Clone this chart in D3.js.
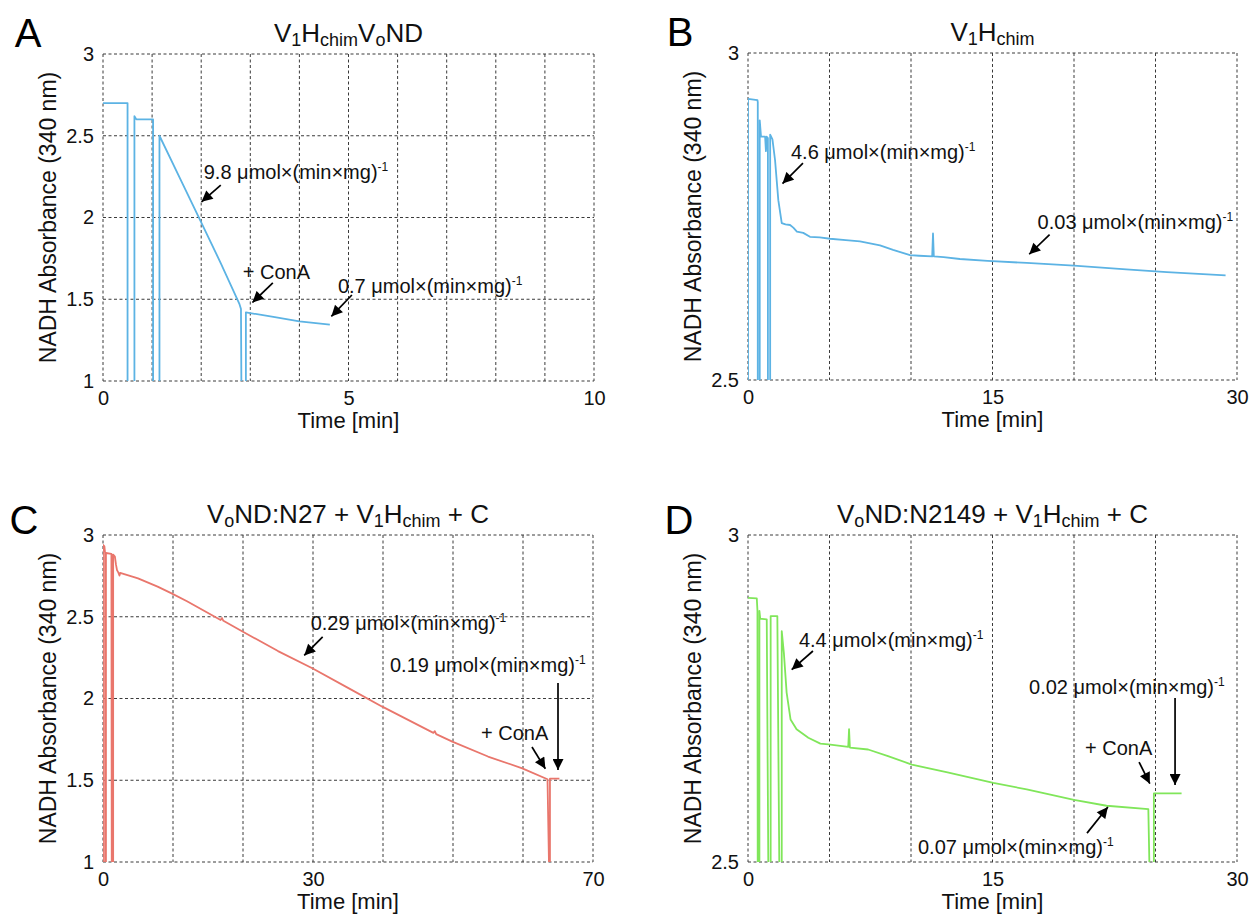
<!DOCTYPE html>
<html>
<head>
<meta charset="utf-8">
<script src="https://cdn.jsdelivr.net/npm/d3@7"></script>
<style>
  body { margin: 0; background: #fff; }
  svg { display: block; font-family: "Liberation Sans", Arial, Helvetica, sans-serif; }
</style>
</head>
<body>
<svg id="fig" width="1252" height="917"></svg>
<script>
// ---- Absorbance traces (time in min, NADH absorbance at 340 nm) ----
// Values below the axis minimum are the cuvette-opening dips; they are clipped.
const timeA = [0, 0.5, 0.5, 0.64, 0.64, 0.68, 1.02, 1.02, 1.15, 1.15, 1.6, 2.0, 2.4, 2.78, 2.81, 2.82, 2.91, 2.91, 3.5, 4.0, 4.62];
const absA  = [2.70, 2.70, 0.9, 0.9, 2.62, 2.60, 2.60, 0.9, 0.9, 2.50, 2.22, 1.97, 1.72, 1.47, 1.44, 0.9, 0.9, 1.42, 1.39, 1.365, 1.345];

const timeB = [0, 0, 0.58, 0.6, 0.6, 0.72, 0.72, 0.8, 1.05, 1.1, 1.15, 1.2, 1.22, 1.22, 1.36, 1.36, 1.5, 1.66, 1.86, 2.07, 2.3, 2.58, 2.78, 3.0, 3.39, 3.8, 4.4, 5.03, 6.0, 6.87, 8.1, 8.9, 9.94, 10.5, 11.3, 11.35, 11.4, 12.0, 13.0, 14.7, 17.1, 20.0, 23.2, 25.7, 29.3];
const absB  = [2.4, 2.93, 2.928, 2.925, 2.4, 2.4, 2.897, 2.872, 2.872, 2.85, 2.872, 2.87, 2.87, 2.4, 2.4, 2.875, 2.868, 2.836, 2.775, 2.74, 2.738, 2.737, 2.733, 2.727, 2.725, 2.719, 2.718, 2.716, 2.714, 2.712, 2.706, 2.699, 2.691, 2.690, 2.689, 2.724, 2.689, 2.688, 2.685, 2.682, 2.679, 2.675, 2.669, 2.665, 2.660];

const timeC = [0, 0, 0.2, 0.3, 0.3, 0.42, 0.42, 1.2, 1.25, 1.45, 1.45, 1.7, 1.85, 2.0, 2.2, 2.35, 2.45, 3.5, 5.0, 7.8, 9.8, 12.0, 16.8, 17.0, 17.2, 19.8, 25.0, 29.9, 35.0, 39.9, 47.2, 47.4, 47.6, 49.9, 55.0, 59.9, 63.5, 63.75, 63.85, 63.85, 65.2];
const absC  = [0.9, 2.94, 2.93, 2.89, 0.9, 0.9, 2.89, 2.885, 0.9, 0.9, 2.88, 2.868, 2.82, 2.785, 2.77, 2.752, 2.768, 2.755, 2.735, 2.684, 2.643, 2.595, 2.48, 2.492, 2.475, 2.413, 2.29, 2.185, 2.065, 1.95, 1.79, 1.80, 1.782, 1.736, 1.645, 1.573, 1.506, 0.9, 0.9, 1.51, 1.51];

const timeD = [0, 0.54, 0.58, 0.6, 0.7, 0.7, 0.75, 1.15, 1.27, 1.39, 1.39, 1.8, 1.95, 2.07, 2.07, 2.2, 2.37, 2.61, 2.98, 3.7, 4.44, 4.93, 6.15, 6.2, 6.25, 7.37, 8.59, 10.05, 12.24, 15.05, 17.1, 20.0, 22.0, 24.56, 24.7, 24.9, 24.9, 26.6];
const absD  = [2.904, 2.903, 2.884, 2.4, 2.4, 2.884, 2.872, 2.871, 2.4, 2.4, 2.876, 2.876, 2.4, 2.4, 2.853, 2.82, 2.759, 2.718, 2.703, 2.69, 2.681, 2.68, 2.676, 2.703, 2.675, 2.672, 2.662, 2.649, 2.637, 2.621, 2.611, 2.595, 2.586, 2.581, 2.4, 2.4, 2.605, 2.605];

// ---- Axis ranges and tick labels ----
const xDomainA = [0, 10], yDomainA = [1, 3];
const xDomainB = [0, 30], yDomainB = [2.5, 3];
const xDomainC = [0, 70], yDomainC = [1, 3];
const xDomainD = [0, 30], yDomainD = [2.5, 3];
const xTicksA = [0, 5, 10],  yTicksA = [1, 1.5, 2, 2.5, 3];
const xTicksB = [0, 15, 30], yTicksB = [2.5, 3];
const xTicksC = [0, 30, 70], yTicksC = [1, 1.5, 2, 2.5, 3];
const xTicksD = [0, 15, 30], yTicksD = [2.5, 3];
const xGridStepA = 1, xGridStepB = 5, xGridStepC = 10, xGridStepD = 5;
const yGridStepA = 0.5, yGridStepB = 0.5, yGridStepC = 0.5, yGridStepD = 0.5;

// ---- Rates stated on the panels, µmol×(min×mg)^-1 ----
const ratesA = ["9.8", "0.7"];
const ratesB = ["4.6", "0.03"];
const ratesC = ["0.29", "0.19"];
const ratesD = ["4.4", "0.02", "0.07"];

// ---- Titles (text, subscript flag) ----
const titleA = [["V", 0], ["1", 1], ["H", 0], ["chim", 1], ["V", 0], ["o", 1], ["ND", 0]];
const titleB = [["V", 0], ["1", 1], ["H", 0], ["chim", 1]];
const titleC = [["V", 0], ["o", 1], ["ND:N27 + V", 0], ["1", 1], ["H", 0], ["chim", 1], [" + C", 0]];
const titleD = [["V", 0], ["o", 1], ["ND:N2149 + V", 0], ["1", 1], ["H", 0], ["chim", 1], [" + C", 0]];

const colBlue = "#5cb3e4", colRed = "#e9766c", colGreen = "#80e65a";

const svg = d3.select("#fig");
const defs = svg.append("defs");
defs.append("marker")
  .attr("id", "ah").attr("viewBox", "0 0 10 10")
  .attr("refX", 10).attr("refY", 5)
  .attr("markerWidth", 12).attr("markerHeight", 11)
  .attr("markerUnits", "userSpaceOnUse").attr("orient", "auto")
  .append("path").attr("d", "M0,0 L10,5 L0,10 Z").attr("fill", "#000");

const panels = [
  { key: "A", t: timeA, v: absA, xd: xDomainA, yd: yDomainA, xt: xTicksA, yt: yTicksA, xs: xGridStepA, ys: yGridStepA,
    color: colBlue, title: titleA, box: [103, 594, 54, 381], letter: [28, 47],
    notes: [
      { kind: "rate", label: ratesA[0], tip: [1.93, 2.076], tail: [23, -20], text: [6, -26] },
      { kind: "conA", tip: [2.97, 1.459], tail: [24, -23], text: [-6, -27] },
      { kind: "rate", label: ratesA[1], tip: [4.58, 1.373], tail: [24, -25], text: [10, -27] }
    ] },
  { key: "B", t: timeB, v: absB, xd: xDomainB, yd: yDomainB, xt: xTicksB, yt: yTicksB, xs: xGridStepB, ys: yGridStepB,
    color: colBlue, title: titleB, box: [748, 1237, 53, 380], letter: [680, 46],
    notes: [
      { kind: "rate", label: ratesB[0], tip: [1.90, 2.795], tail: [24, -24], text: [12, -28] },
      { kind: "rate", label: ratesB[1], tip: [17.03, 2.687], tail: [24, -23], text: [12, -29] }
    ] },
  { key: "C", t: timeC, v: absC, xd: xDomainC, yd: yDomainC, xt: xTicksC, yt: yTicksC, xs: xGridStepC, ys: yGridStepC,
    color: colRed, title: titleC, box: [103, 593, 535, 862], letter: [24, 534],
    notes: [
      { kind: "rate", label: ratesC[0], tip: [28.24, 2.242], tail: [22, -22], text: [10, -29] },
      { kind: "rate", label: ratesC[1], tip: [65.0, 1.532], tail: [0, -92], text: [-168, -103] },
      { kind: "conA", tip: [63.57, 1.544], tail: [-16, -26], text: [-67, -33] }
    ] },
  { key: "D", t: timeD, v: absD, xd: xDomainD, yd: yDomainD, xt: xTicksD, yt: yTicksD, xs: xGridStepD, ys: yGridStepD,
    color: colGreen, title: titleD, box: [748, 1237, 535, 862], letter: [679, 534],
    notes: [
      { kind: "rate", label: ratesD[0], tip: [2.45, 2.789], tail: [25, -22], text: [11, -26] },
      { kind: "rate", label: ratesD[1], tip: [26.2, 2.61], tail: [0, -92], text: [-146, -96] },
      { kind: "conA", tip: [24.79, 2.613], tail: [-13, -26], text: [-67, -33] },
      { kind: "rate", label: ratesD[2], tip: [22.27, 2.590], tail: [-24, 30], text: [-193, 51] }
    ] }
];

function drawTitle(g, parts, cx, baseline) {
  const txt = g.append("text")
    .attr("x", cx).attr("y", baseline)
    .attr("text-anchor", "middle")
    .attr("font-size", 26).attr("fill", "#111");
  let shifted = false;
  parts.forEach(([s, sub]) => {
    const ts = txt.append("tspan").text(s);
    if (sub) {
      ts.attr("font-size", 18);
      if (!shifted) { ts.attr("dy", 4); shifted = true; }
    } else if (shifted) {
      ts.attr("dy", -4); shifted = false;
    }
  });
}

function drawArrow(g, x1, y1, x2, y2) {
  // stop the shaft a little short of the tip so the head stays sharp
  const dx = x2 - x1, dy = y2 - y1, len = Math.hypot(dx, dy);
  const k = (len - 5) / len;
  g.append("line")
    .attr("x1", x1).attr("y1", y1)
    .attr("x2", x1 + dx * k).attr("y2", y1 + dy * k)
    .attr("stroke", "#000").attr("stroke-width", 1.7)
    .attr("marker-end", "url(#ah)");
}

panels.forEach(p => {
  const [L, R, T, B] = p.box;
  const x = d3.scaleLinear().domain(p.xd).range([L, R]);
  const y = d3.scaleLinear().domain(p.yd).range([B, T]);
  const g = svg.append("g").attr("class", "panel-" + p.key);

  // grid and frame
  const gridStyle = sel => sel.attr("stroke", "#3a3a3a").attr("stroke-width", 1).attr("stroke-dasharray", "3,2.5");
  const xs = d3.range(p.xd[0], p.xd[1] + 1e-9, p.xs);
  const ys = d3.range(p.yd[0], p.yd[1] + 1e-9, p.ys);
  g.append("g").selectAll("line").data(xs).join("line")
    .attr("x1", d => x(d)).attr("x2", d => x(d)).attr("y1", T).attr("y2", B).call(gridStyle);
  g.append("g").selectAll("line").data(ys).join("line")
    .attr("y1", d => y(d)).attr("y2", d => y(d)).attr("x1", L).attr("x2", R).call(gridStyle);

  // tick labels
  const fmt = d3.format("~g");
  const ax = g.append("g").attr("transform", `translate(0,${B})`)
    .call(d3.axisBottom(x).tickValues(p.xt).tickSize(0).tickPadding(10).tickFormat(fmt));
  const ay = g.append("g").attr("transform", `translate(${L},0)`)
    .call(d3.axisLeft(y).tickValues(p.yt).tickSize(0).tickPadding(9).tickFormat(fmt));
  [ax, ay].forEach(a => {
    a.select(".domain").remove();
    a.selectAll("text").attr("font-size", 20).attr("fill", "#111")
      .attr("font-family", '"Liberation Sans", Arial, Helvetica, sans-serif');
  });

  // axis titles
  g.append("text").attr("x", (L + R) / 2).attr("y", B + 47)
    .attr("text-anchor", "middle").attr("font-size", 22).attr("fill", "#111")
    .text("Time [min]");
  g.append("text")
    .attr("transform", `translate(${L - 55},${(T + B) / 2}) rotate(-90)`)
    .attr("text-anchor", "middle").attr("dominant-baseline", "central")
    .attr("font-size", 23).attr("fill", "#111")
    .text("NADH Absorbance (340 nm)");

  // trace
  const clipId = "clip" + p.key;
  defs.append("clipPath").attr("id", clipId)
    .append("rect").attr("x", L).attr("y", T).attr("width", R - L).attr("height", B - T);
  const pts = p.t.map((t, i) => [t, p.v[i]]);
  g.append("path").datum(pts)
    .attr("clip-path", `url(#${clipId})`)
    .attr("fill", "none").attr("stroke", p.color).attr("stroke-width", 1.8)
    .attr("stroke-linejoin", "round")
    .attr("d", d3.line().x(d => x(d[0])).y(d => y(d[1])));

  // title and panel letter
  drawTitle(g, p.title, (L + R) / 2, T - 12);
  g.append("text").attr("x", p.letter[0]).attr("y", p.letter[1])
    .attr("text-anchor", "middle").attr("font-size", 40).attr("fill", "#000").text(p.key);

  // annotations
  p.notes.forEach(n => {
    const tx = x(n.tip[0]), ty = y(n.tip[1]);
    drawArrow(g, tx + n.tail[0], ty + n.tail[1], tx, ty);
    const t = g.append("text").attr("x", tx + n.text[0]).attr("y", ty + n.text[1])
      .attr("font-size", 20).attr("fill", "#111");
    if (n.kind === "conA") {
      t.text("+ ConA");
    } else {
      t.append("tspan").text(`${n.label} μmol×(min×mg)`);
      t.append("tspan").attr("font-size", 12).attr("dy", -8).text("-1");
    }
  });
});
</script>
</body>
</html>
